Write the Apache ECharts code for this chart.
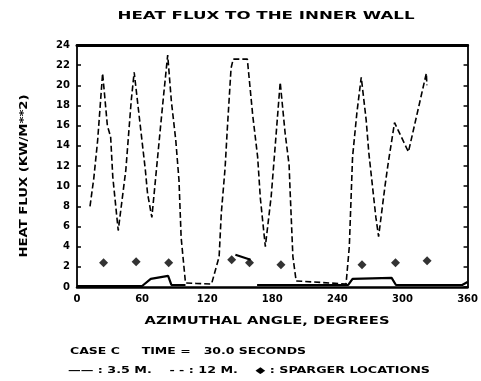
<!DOCTYPE html>
<html>
<head>
<meta charset="utf-8">
<script src="https://cdn.jsdelivr.net/npm/echarts@6/dist/echarts.min.js"></script>
<style>
  html, body { margin: 0; padding: 0; background: #fff; }
  #chart { width: 481px; height: 381px; }
</style>
</head>
<body>
<div id="chart"></div>
<script>
// angle ticks and flux ticks
const angleTicks = [0, 60, 120, 180, 240, 300, 360];
const fluxTicks = [0, 2, 4, 6, 8, 10, 12, 14, 16, 18, 20, 22, 24];

// upper curve (big peaks)
const anglesHigh = [12, 15.5, 19, 23.6, 28, 31, 33, 38, 45, 50, 52.7, 63, 65, 69, 77, 80, 83.6, 87, 91, 94, 96,
  100, 110, 124, 131, 133, 136.5, 138.5, 142, 144, 157, 162, 166.5, 169, 173.6, 179, 182.7, 187.3, 191.8, 195.5,
  196.4, 199, 202, 225, 248, 251, 254, 258, 262, 266.5, 269, 275.5, 278, 284, 287, 292.7, 305.5, 322, 322.5];
const fluxHigh = [8.0, 10.8, 14.5, 21.2, 16.0, 14.9, 10.9, 5.6, 11.6, 18.5, 21.3, 11.6, 9.3, 6.9, 15.9, 19.2, 23.0, 18.4, 14.6, 10.6, 4.9,
  0.4, 0.35, 0.3, 3.0, 7.3, 11.8, 15.6, 21.7, 22.6, 22.6, 17.0, 12.9, 8.8, 4.0, 9.0, 14.0, 20.3, 15.3, 12.1,
  9.6, 3.0, 0.6, 0.45, 0.3, 4.0, 12.9, 17.3, 20.8, 16.6, 13.3, 6.9, 5.0, 10.1, 12.4, 16.3, 13.4, 21.2, 20.0];

// lower curve (near zero), null = break in the pen
const anglesLow = [0, 60, 68, 84, 87, 100, null, 146, 160, null, 166, 200, 250, 254, 290, 294, 355, 360];
const fluxLow = [0.1, 0.1, 0.8, 1.1, 0.2, 0.2, null, 3.2, 2.7, null, 0.2, 0.2, 0.2, 0.8, 0.9, 0.2, 0.2, 0.5];

// sparger locations
const spargerAngles = [24.5, 54.5, 84.5, 142.6, 159, 188, 262.7, 293.6, 322.7];
const spargerFlux = [2.4, 2.5, 2.4, 2.7, 2.4, 2.2, 2.2, 2.4, 2.6];

const highData = anglesHigh.map((a, i) => [a, fluxHigh[i]]);
const lowData = anglesLow.map((a, i) => a === null ? '-' : [a, fluxLow[i]]);
const spargerData = spargerAngles.map((a, i) => [a, spargerFlux[i]]);

const chart = echarts.init(document.getElementById('chart'), null, {renderer: 'canvas'});

// stretch text sideways so it fills the same width as the plotter lettering
const measureCtx = document.createElement('canvas').getContext('2d');
function stretchedText(str, font, x, y, width, rotation) {
  measureCtx.font = font;
  const w = measureCtx.measureText(str).width;
  return {
    type: 'text',
    x: x, y: y,
    rotation: rotation || 0,
    scaleX: width / w,
    style: {
      text: str,
      font: font,
      fill: '#000',
      textAlign: 'center',
      textVerticalAlign: 'middle'
    },
    silent: true
  };
}

const font12 = 'bold 11px "DejaVu Sans"';
const font10 = 'bold 9px "DejaVu Sans"';

const frameLine = (w) => ({show: true, onZero: false, lineStyle: {color: '#000', width: w}});

const option = {
  backgroundColor: '#fff',
  animation: false,
  grid: {left: 77, right: 8, top: 45, bottom: 94},
  xAxis: [
    {
      type: 'value', min: 0, max: 360, interval: 60,
      position: 'bottom',
      axisLine: frameLine(2.5),
      axisTick: {show: false},
      splitLine: {show: false},
      axisLabel: {color: '#000', fontWeight: 'bold', fontSize: 10, fontFamily: 'DejaVu Sans', margin: 7}
    },
    {
      type: 'value', min: 0, max: 360, interval: 60,
      position: 'top',
      axisLine: frameLine(3),
      axisTick: {show: false},
      splitLine: {show: false},
      axisLabel: {show: false}
    }
  ],
  yAxis: [
    {
      type: 'value', min: 0, max: 24, interval: 2,
      position: 'left',
      axisLine: frameLine(1.8),
      axisTick: {show: true, inside: true, length: 4, lineStyle: {color: '#000', width: 1.5}},
      splitLine: {show: false},
      axisLabel: {color: '#000', fontWeight: 'bold', fontSize: 10, fontFamily: 'DejaVu Sans', margin: 7}
    },
    {
      type: 'value', min: 0, max: 24, interval: 2,
      position: 'right',
      axisLine: frameLine(1.8),
      axisTick: {show: true, inside: true, length: 4, lineStyle: {color: '#000', width: 1.5}},
      splitLine: {show: false},
      axisLabel: {show: false}
    }
  ],
  series: [
    {
      name: '12 M',
      type: 'line',
      data: highData,
      showSymbol: false,
      lineStyle: {color: '#000', width: 1.6, type: [6, 3]}
    },
    {
      name: '3.5 M',
      type: 'line',
      data: lowData,
      connectNulls: false,
      showSymbol: false,
      lineStyle: {color: '#000', width: 2.2}
    },
    {
      name: 'SPARGER LOCATIONS',
      type: 'scatter',
      data: spargerData,
      symbol: 'diamond',
      symbolSize: 9,
      itemStyle: {color: '#000'}
    }
  ],
  graphic: [
    stretchedText('HEAT FLUX TO THE INNER WALL', font12, 266, 16, 297),
    stretchedText('HEAT FLUX (KW/M**2)', font12, 24, 176, 163, Math.PI / 2),
    stretchedText('AZIMUTHAL ANGLE, DEGREES', font12, 267, 321, 245),
    stretchedText('CASE C     TIME =   30.0 SECONDS', font10, 188, 352, 236),
    stretchedText('—— : 3.5 M.    - - : 12 M.    ◆ : SPARGER LOCATIONS', font10, 249, 371, 362)
  ]
};

chart.setOption(option);
</script>
</body>
</html>
